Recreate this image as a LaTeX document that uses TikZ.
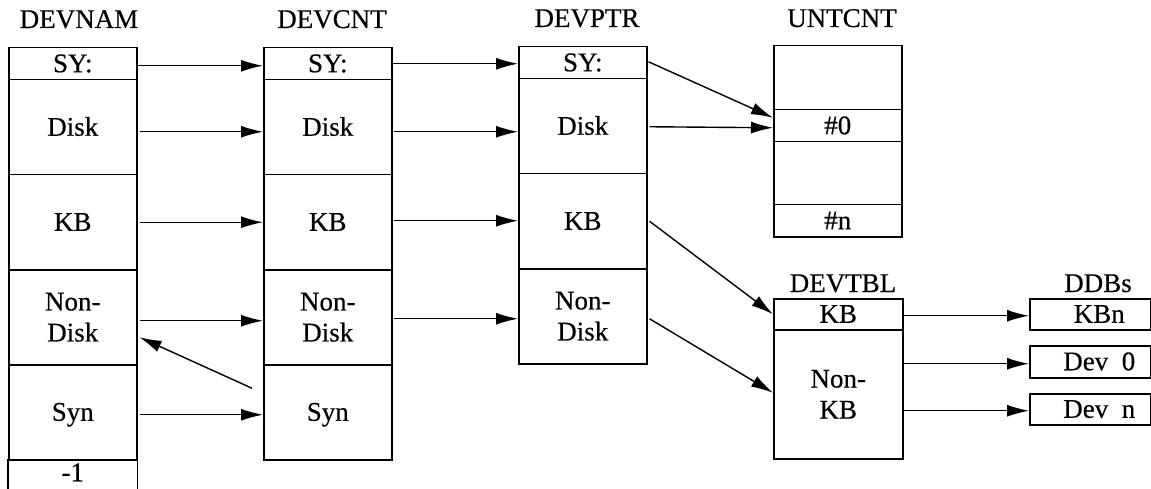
\documentclass[tikz,border=0pt]{standalone}
\usepackage{fontspec}
\setmainfont[FakeBold=0.4]{Liberation Serif}
\usetikzlibrary{arrows.meta}
\begin{document}
\begin{tikzpicture}[x=1pt,y=-1pt,
  every node/.style={font=\fontsize{27}{31}\selectfont},
  cell/.style={draw, line width=1.5pt, minimum width=128pt, inner sep=0pt, anchor=north west, text height=17pt, text depth=0pt},
  cellb/.style={draw, line width=1.5pt, minimum width=128pt, inner sep=0pt, anchor=north west, align=center},
  ddb/.style={draw, line width=1.5pt, minimum width=121pt, inner sep=0pt, anchor=north west},
  title/.style={anchor=base, inner sep=0pt},
  lab/.style={inner sep=0pt, text height=17pt, text depth=0pt},
  wall/.style={line width=1.5pt},
  arr/.style={line width=1.4pt, -{Latex[length=22pt,width=12pt]}}]
\useasboundingbox (0,0) rectangle (1151,489);

% titles
\node[title] (t-nam) at (79,28) {DEVNAM};
\node[title] (t-cnt) at (332,28) {DEVCNT};
\node[title] (t-ptr) at (587,27) {DEVPTR};
\node[title] (t-unt) at (842,27) {UNTCNT};
\node[title] (t-tbl) at (843,292) {DEVTBL};
\node[title] (t-ddb) at (1098,292) {DDBs};

% DEVNAM
\node[cell, minimum height=32pt] (nam-sy) at (8,47) {SY:};
\node[cell, minimum height=95pt] (nam-disk) at (8,79) {Disk};
\node[cell, minimum height=95pt] (nam-kb) at (8,174) {KB};
\node[cellb, minimum height=95pt] (nam-nd) at (8,269) {Non-\\Disk};
\node[cell, minimum height=95pt] (nam-syn) at (8,364) {Syn};
\node[cell, draw=none, minimum height=26pt] (nam-m1) at (8,459) {-1};
\draw[wall] (nam-m1.north west) -- ++(0,32);
\draw[wall] (nam-m1.north east) -- ++(0,32);

% DEVCNT
\node[cell, minimum height=32pt] (cnt-sy) at (263,47) {SY:};
\node[cell, minimum height=95pt] (cnt-disk) at (263,79) {Disk};
\node[cell, minimum height=95pt] (cnt-kb) at (263,174) {KB};
\node[cellb, minimum height=95pt] (cnt-nd) at (263,269) {Non-\\Disk};
\node[cell, minimum height=95pt] (cnt-syn) at (263,364) {Syn};

% DEVPTR
\node[cell, minimum height=32pt] (ptr-sy) at (518,46) {SY:};
\node[cell, minimum height=95pt] (ptr-disk) at (518,78) {Disk};
\node[cell, minimum height=95pt] (ptr-kb) at (518,173) {KB};
\node[cellb, minimum height=95pt] (ptr-nd) at (518,268) {Non-\\Disk};

% UNTCNT
\node[cell, minimum height=64pt] (unt-a) at (773,45) {};
\node[cell, minimum height=32pt] (unt-0) at (773,109) {\#0};
\node[cell, minimum height=63pt] (unt-b) at (773,141) {};
\node[cell, minimum height=32pt] (unt-n) at (773,204) {\#n};

% DEVTBL
\node[cell, minimum width=129pt, minimum height=31pt] (tbl-kb) at (773,298) {KB};
\node[cellb, minimum width=129pt, minimum height=129pt] (tbl-nkb) at (773,329) {Non-\\KB};

% DDBs
\node[ddb, minimum height=31pt] (kbn) at (1029,298) {};
\node[ddb, minimum height=32pt] (dev0) at (1029,345) {};
\node[ddb, minimum height=31pt] (devn) at (1029,393) {};
\node[lab] (kbn-t) at ([xshift=9pt]kbn.center) {KBn};
\node[lab] (dev0-t) at ([xshift=9pt]dev0.center) {Dev\hspace{0.5em}0};
\node[lab] (devn-t) at ([xshift=9pt]devn.center) {Dev\hspace{0.5em}n};

% DEVNAM -> DEVCNT
\draw[arr] ([yshift=-2pt]nam-sy.east) -- ([yshift=-2pt]cnt-sy.west);
\draw[arr] ([xshift=2pt,yshift=-4.5pt]nam-disk.east) -- ([yshift=-4.5pt]cnt-disk.west);
\draw[arr] ([xshift=2pt]nam-kb.east) -- (cnt-kb.west);
\draw[arr] ([xshift=2pt,yshift=-3.5pt]nam-nd.east) -- ([yshift=-3.5pt]cnt-nd.west);
\draw[arr] ([xshift=2pt,yshift=-2.5pt]nam-syn.east) -- ([yshift=-2.5pt]cnt-syn.west);
\draw[arr] ([xshift=-11pt,yshift=24pt]cnt-syn.west) -- ([xshift=2pt,yshift=-20pt]nam-nd.east);

% DEVCNT -> DEVPTR
\draw[arr] (cnt-sy.east) -- (ptr-sy.west |- cnt-sy.east);
\draw[arr] ([xshift=1pt,yshift=-4.5pt]cnt-disk.east) -- ([yshift=-4.5pt]ptr-disk.west |- cnt-disk.east);
\draw[arr] ([xshift=1pt,yshift=1.5pt]cnt-kb.east) -- ([yshift=1.5pt]ptr-kb.west |- cnt-kb.east);
\draw[arr] ([xshift=1pt,yshift=-1.5pt]cnt-nd.east) -- ([yshift=-1.5pt]ptr-nd.west |- cnt-nd.east);

% DEVPTR -> UNTCNT
\draw[arr] ([xshift=1pt,yshift=1pt]ptr-sy.east) -- ([yshift=8pt]unt-0.west);
\draw[arr] ([xshift=2pt,yshift=-0.5pt]ptr-disk.east) -- ([yshift=-2pt]unt-0.west);

% DEVPTR -> DEVTBL
\draw[arr] ([xshift=2pt]ptr-kb.east) -- (tbl-kb.west);
\draw[arr] ([xshift=2pt,yshift=-2.5pt]ptr-nd.east) -- ([yshift=1.5pt]tbl-nkb.west);

% DEVTBL -> DDBs
\draw[arr] ([yshift=-1.5pt]tbl-kb.east) -- ([yshift=-1.5pt]kbn.west);
\draw[arr] ([yshift=-2pt]dev0.west -| tbl-nkb.east) -- ([yshift=-2pt]dev0.west);
\draw[arr] ([yshift=-1.5pt]devn.west -| tbl-nkb.east) -- ([yshift=-1.5pt]devn.west);
\end{tikzpicture}
\end{document}
